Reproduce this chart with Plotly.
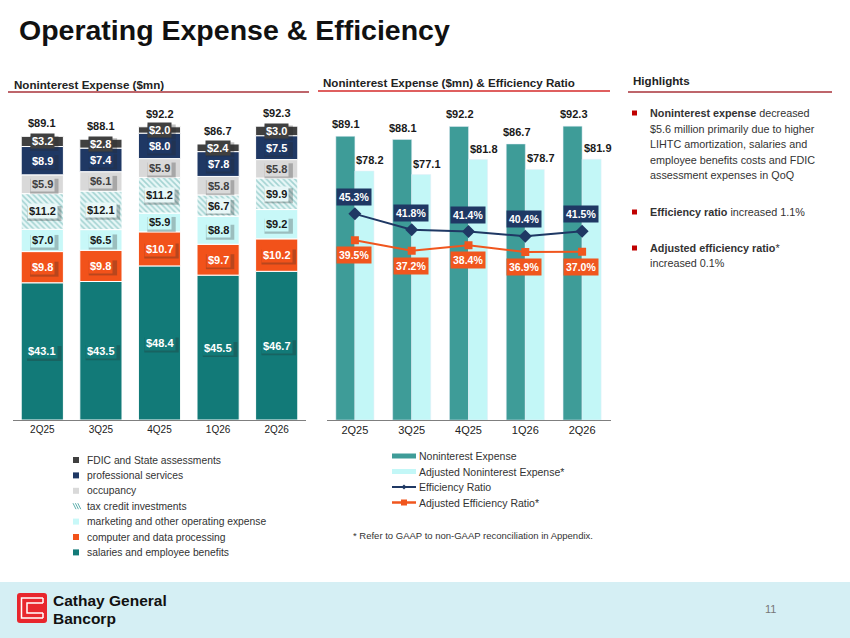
import plotly.graph_objects as go

W, H = 850, 638
def X(px): return px / W
def Y(py): return 1 - py / H

FONT = "Liberation Sans, Arial, sans-serif"

# ---------------- data ----------------
quarters = ["2Q25", "3Q25", "4Q25", "1Q26", "2Q26"]
salaries = [43.1, 43.5, 48.4, 45.5, 46.7]
computer = [9.8, 9.8, 10.7, 9.7, 10.2]
marketing = [7.0, 6.5, 5.9, 8.8, 9.2]
tax_credit = [11.2, 12.1, 11.2, 6.7, 9.9]
occupancy = [5.9, 6.1, 5.9, 5.8, 5.8]
professional = [8.9, 7.4, 8.0, 7.8, 7.5]
fdic = [3.2, 2.8, 2.0, 2.4, 3.0]
totals = [89.1, 88.1, 92.2, 86.7, 92.3]

adj_nonint = [78.2, 77.1, 81.8, 78.7, 81.9]
eff_ratio = [45.3, 41.8, 41.4, 40.4, 41.5]
adj_eff_ratio = [39.5, 37.2, 38.4, 36.9, 37.0]

stack_names = ["salaries and employee benefits", "computer and data processing",
               "marketing and other operating expense", "tax credit investments",
               "occupancy", "professional services", "FDIC and State assessments"]
stack_values = [salaries, computer, marketing, tax_credit, occupancy, professional, fdic]
right_names = ["Noninterest Expense", "Adjusted Noninterest Expense*",
               "Efficiency Ratio", "Adjusted Efficiency Ratio*"]

# ---------------- styles ----------------
TEAL = "#127A78"
ORANGE = "#F2521A"
CYAN = "#C8F8F8"
HATCH_FG = "#5FAFAD"
GRAY = "#D9D9D9"
NAVY = "#1F3864"
DARK = "#404040"
MID_TEAL = "#3E9C98"
LIGHT_CYAN = "#C3F7F7"
EFF_NAVY = "#1F3864"
EFF_ORANGE = "#F0561E"

stack_colors = [TEAL, ORANGE, CYAN, "#E4F5F5", GRAY, NAVY, DARK]
label_fg = ["white", "white", "#1A1A1A", "#1A1A1A", "#404040", "white", "white"]
label_bg = [TEAL, ORANGE, CYAN, "#E8F7F7", GRAY, NAVY, DARK]

fig = go.Figure()
annotations = []
shapes = []

# ---------------- left stacked chart ----------------
base = [0.0] * len(quarters)
for i, (name, vals) in enumerate(zip(stack_names, stack_values)):
    marker = dict(color=stack_colors[i], line=dict(color="white", width=1))
    if name == "tax credit investments":
        marker["pattern"] = dict(shape="\\", fgcolor=HATCH_FG, bgcolor="#E8F7F7",
                                 size=4, solidity=0.4)
    fig.add_trace(go.Bar(x=quarters, y=vals, base=list(base), name=name,
                         width=0.72, marker=marker, xaxis="x", yaxis="y",
                         showlegend=False, hoverinfo="skip"))
    for q, b, v in zip(quarters, base, vals):
        s = f"${v:.1f}"
        wbox = 6.1 * len(s) + 4
        hbox = 15
        # soft drop shadow behind the label box (pixel-sized shape)
        shapes.append(dict(type="rect", xref="x", yref="y",
                           xsizemode="pixel", ysizemode="pixel",
                           xanchor=q, yanchor=b + v / 2,
                           x0=-wbox / 2 + 2, x1=wbox / 2 + 2,
                           y0=-hbox / 2 - 2, y1=hbox / 2 - 2,
                           fillcolor="rgba(40,40,40,0.28)", line=dict(width=0),
                           layer="above"))
        annotations.append(dict(
            x=q, y=b + v / 2, xref="x", yref="y", text=f"<b>{s}</b>",
            showarrow=False, font=dict(family=FONT, size=11, color=label_fg[i]),
            bgcolor=label_bg[i], borderpad=1))
    base = [b + v for b, v in zip(base, vals)]

for q, top, t in zip(quarters, base, totals):
    annotations.append(dict(x=q, y=top, xref="x", yref="y", text=f"<b>${t:.1f}</b>",
                            showarrow=False, yshift=13, yanchor="middle",
                            font=dict(family=FONT, size=11, color="#1A1A1A")))

# ---------------- middle grouped chart ----------------
fig.add_trace(go.Bar(x=quarters, y=totals, name=right_names[0], width=0.335, offset=-0.335,
                     marker=dict(color=MID_TEAL), xaxis="x2", yaxis="y2",
                     showlegend=False, hoverinfo="skip"))
fig.add_trace(go.Bar(x=quarters, y=adj_nonint, name=right_names[1], width=0.335, offset=0,
                     marker=dict(color=LIGHT_CYAN), xaxis="x2", yaxis="y2",
                     showlegend=False, hoverinfo="skip"))
fig.add_trace(go.Scatter(x=quarters, y=eff_ratio, name=right_names[2], mode="lines+markers",
                         line=dict(color=EFF_NAVY, width=2),
                         marker=dict(symbol="diamond", size=10, color=EFF_NAVY),
                         xaxis="x2", yaxis="y3", showlegend=False, hoverinfo="skip"))
fig.add_trace(go.Scatter(x=quarters, y=adj_eff_ratio, name=right_names[3], mode="lines+markers",
                         line=dict(color=EFF_ORANGE, width=2),
                         marker=dict(symbol="square", size=8, color=EFF_ORANGE),
                         xaxis="x2", yaxis="y3", showlegend=False, hoverinfo="skip"))

for q, v in zip(quarters, totals):
    annotations.append(dict(x=q, y=v, xref="x2", yref="y2", text=f"<b>${v:.1f}</b>",
                            showarrow=False, xshift=-8.5, yshift=12, yanchor="middle",
                            font=dict(family=FONT, size=11, color="#1A1A1A")))
for q, v in zip(quarters, adj_nonint):
    annotations.append(dict(x=q, y=v, xref="x2", yref="y2", text=f"<b>${v:.1f}</b>",
                            showarrow=False, xshift=15.5, yshift=11, yanchor="middle",
                            font=dict(family=FONT, size=11, color="#1A1A1A")))
for q, v in zip(quarters, eff_ratio):
    annotations.append(dict(x=q, y=v, xref="x2", yref="y3", text=f"<b>{v:.1f}%</b>",
                            showarrow=False, xshift=-1, yshift=17, yanchor="middle",
                            bgcolor=EFF_NAVY, borderpad=2,
                            font=dict(family=FONT, size=10.5, color="white")))
for q, v in zip(quarters, adj_eff_ratio):
    annotations.append(dict(x=q, y=v, xref="x2", yref="y3", text=f"<b>{v:.1f}%</b>",
                            showarrow=False, xshift=-1, yshift=-15, yanchor="middle",
                            bgcolor=EFF_ORANGE, borderpad=2,
                            font=dict(family=FONT, size=10.5, color="white")))

# ---------------- helpers for page elements ----------------
def text(px, py, s, size=11, color="#333333", anchor="left", bold=False):
    annotations.append(dict(x=X(px), y=Y(py), xref="paper", yref="paper",
                            text=(f"<b>{s}</b>" if bold else s), showarrow=False,
                            xanchor=anchor, yanchor="middle",
                            font=dict(family=FONT, size=size, color=color)))

def rect(x0, y0, x1, y1, color, line=None):
    shapes.append(dict(type="rect", xref="paper", yref="paper",
                       x0=X(x0), x1=X(x1), y0=Y(y1), y1=Y(y0),
                       fillcolor=color, line=dict(width=0) if line is None else line,
                       layer="below"))

def seg(x0, y0, x1, y1, color, width=1):
    shapes.append(dict(type="line", xref="paper", yref="paper",
                       x0=X(x0), x1=X(x1), y0=Y(y0), y1=Y(y1),
                       line=dict(color=color, width=width)))

def path(points, color=None, fill=None, width=1.5, closed=False):
    d = "M " + " L ".join(f"{X(a):.5f},{Y(b):.5f}" for a, b in points)
    if closed:
        d += " Z"
    shapes.append(dict(type="path", xref="paper", yref="paper", path=d,
                       fillcolor=fill if fill else "rgba(0,0,0,0)",
                       line=dict(color=color if color else "rgba(0,0,0,0)", width=width)))

# title
text(17, 30, "Operating Expense &amp; Efficiency", size=28.5, color="#111111", bold=True)

# section headers + underlines
text(12, 84, "Noninterest Expense ($mn)", size=11.6, color="#222222", bold=True)
seg(8, 92, 309, 92, "#A8323A", 1.5)
text(321, 82, "Noninterest Expense ($mn) &amp; Efficiency Ratio", size=11.6, color="#222222", bold=True)
seg(318, 91, 610, 91, "#D42A2A", 1.5)
text(631, 81, "Highlights", size=11.6, color="#222222", bold=True)
seg(628, 92, 832, 92, "#A8323A", 1.5)

# left legend (top to bottom = reversed stack)
leg_left_y0, leg_step = 460, 15.4
for k, idx in enumerate(range(len(stack_names) - 1, -1, -1)):
    ry = leg_left_y0 + k * leg_step
    if stack_names[idx] == "tax credit investments":
        for j in range(3):
            seg(73 + j * 2.4, ry - 3, 76 + j * 2.4, ry + 3, HATCH_FG, 1)
    else:
        rect(73, ry - 3, 79, ry + 3, stack_colors[idx])
    text(85, ry, stack_names[idx], size=10.3, color="#333333")

# middle legend
mid_rows = [456, 471.5, 487, 502.5]
rect(392, mid_rows[0] - 2.5, 416, mid_rows[0] + 2.5, MID_TEAL)
rect(392, mid_rows[1] - 2.5, 416, mid_rows[1] + 2.5, LIGHT_CYAN)
seg(392, mid_rows[2], 416, mid_rows[2], EFF_NAVY, 2)
path([(404, mid_rows[2] - 2.5), (406.5, mid_rows[2]), (404, mid_rows[2] + 2.5), (401.5, mid_rows[2])],
     fill=EFF_NAVY, width=0, closed=True)
seg(392, mid_rows[3], 416, mid_rows[3], EFF_ORANGE, 2.5)
rect(401, mid_rows[3] - 3, 407, mid_rows[3] + 3, EFF_ORANGE)
for ry, nm in zip(mid_rows, right_names):
    text(417, ry, nm, size=10.5, color="#333333")

text(351, 535, "* Refer to GAAP to non-GAAP reconciliation in Appendix.", size=9.5, color="#333333")

# highlights
hl_lines = [
    (113, "<b>Noninterest expense</b> decreased", True),
    (129, "$5.6 million primarily due to higher", False),
    (144, "LIHTC amortization, salaries and", False),
    (160, "employee benefits costs and FDIC", False),
    (175, "assessment expenses in QoQ", False),
    (212, "<b>Efficiency ratio</b> increased 1.1%", True),
    (248, "<b>Adjusted efficiency ratio</b>*", True),
    (263, "increased 0.1%", False),
]
for ry, s, bullet in hl_lines:
    text(648, ry, s, size=10.8, color="#333333")
    if bullet:
        rect(632, ry - 2.5, 637, ry + 2.5, "#C00000")

# footer
rect(0, 582, 850, 638, "#D5EFF4")
# logo
shapes.append(dict(type="path", xref="paper", yref="paper",
                   path=(f"M {X(20)},{Y(593)} L {X(44)},{Y(593)} Q {X(47)},{Y(593)} {X(47)},{Y(596)} "
                         f"L {X(47)},{Y(620)} Q {X(47)},{Y(623)} {X(44)},{Y(623)} "
                         f"L {X(20)},{Y(623)} Q {X(17)},{Y(623)} {X(17)},{Y(620)} "
                         f"L {X(17)},{Y(596)} Q {X(17)},{Y(593)} {X(20)},{Y(593)} Z"),
                   fillcolor="#E8262D", line=dict(width=0)))
path([(43, 598), (21.5, 598), (21.5, 618), (43, 618)], color="white", width=1.5)
path([(43, 603), (27, 603), (27, 613), (43, 613)], color="white", width=1.5)
path([(43, 603), (43, 598)], color="white", width=1.5)
path([(43, 613), (43, 618)], color="white", width=1.5)
text(51, 600, "Cathay General", size=15.5, color="#111111", bold=True)
text(51, 618, "Bancorp", size=15.5, color="#111111", bold=True)
text(770, 609, "11", size=11, color="#777777", anchor="center")

# ---------------- layout ----------------
ydom = [Y(420), Y(101)]
axis_common = dict(type="category", showline=True, linecolor="#7F7F7F", linewidth=1,
                   ticks="", showgrid=False, zeroline=False, fixedrange=True,
                   categoryorder="array", categoryarray=quarters)
fig.update_layout(
    width=W, height=H, margin=dict(l=0, r=0, t=0, b=0),
    paper_bgcolor="white", plot_bgcolor="rgba(0,0,0,0)",
    barmode="overlay", showlegend=False,
    font=dict(family=FONT, color="#222222"),
    xaxis=dict(domain=[X(13), X(306)], anchor="y", range=[-0.5, 4.5],
               tickfont=dict(family=FONT, size=10, color="#222222"), **axis_common),
    yaxis=dict(domain=ydom, range=[0, 100.2], visible=False, fixedrange=True),
    xaxis2=dict(domain=[X(326.5), X(610.5)], anchor="y2", range=[-0.5, 4.5],
                tickfont=dict(family=FONT, size=11, color="#222222"), **axis_common),
    yaxis2=dict(domain=ydom, range=[0, 100.2], visible=False, anchor="x2", fixedrange=True),
    yaxis3=dict(domain=ydom, range=[0, 70.1], visible=False, anchor="x2",
                overlaying="y2", fixedrange=True),
    annotations=annotations, shapes=shapes,
)

fig.write_html("out.html")
